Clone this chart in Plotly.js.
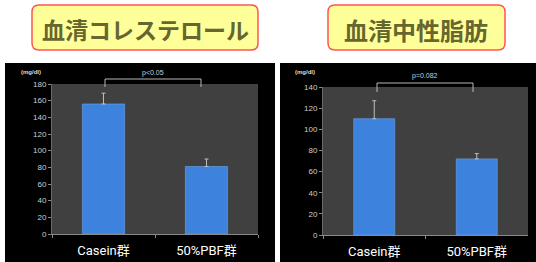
<!DOCTYPE html>
<html><head><meta charset="utf-8">
<script src="https://cdn.plot.ly/plotly-3.0.1.min.js"></script>
<style>html,body{margin:0;padding:0;background:#fff;}#c{width:536px;height:262px;}</style>
</head><body><div id="c"></div>
<script>
// ---- data ----
const categories = ['Casein群', '50%PBF群'];
const cholValues = [156, 81];
const cholErrors = [13, 9];
const tgValues = [110, 72];
const tgErrors = [17, 5];
const panelTitles = ['血清コレステロール', '血清中性脂肪'];
const pLabels = ['p<0.05', 'p=0.082'];
const unitLabel = '(mg/dl)';

const W = 536, H = 262;
const px = x => x / W;
const py = y => 1 - y / H;

function roundRect(x0, y0, x1, y1, r) {
  const p = [];
  p.push('M', px(x0 + r), py(y0));
  p.push('L', px(x1 - r), py(y0));
  p.push('Q', px(x1), py(y0), px(x1), py(y0 + r));
  p.push('L', px(x1), py(y1 - r));
  p.push('Q', px(x1), py(y1), px(x1 - r), py(y1));
  p.push('L', px(x0 + r), py(y1));
  p.push('Q', px(x0), py(y1), px(x0), py(y1 - r));
  p.push('L', px(x0), py(y0 + r));
  p.push('Q', px(x0), py(y0), px(x0 + r), py(y0));
  p.push('Z');
  let s = '';
  for (let i = 0; i < p.length; i++) s += (typeof p[i] === 'number' ? p[i].toFixed(5) : p[i]) + ' ';
  return s.trim();
}

const barColor = '#3d82dc';
const errStyle = c => ({type: 'data', symmetric: false, array: c, arrayminus: c.map(() => 0),
  color: '#bdbdbd', thickness: 1, width: 2});

const traces = [
  {type: 'bar', x: categories, y: cholValues, xaxis: 'x', yaxis: 'y', width: 0.41,
   marker: {color: barColor, line: {color: '#6aa6ee', width: 0.6}}, error_y: errStyle(cholErrors), hoverinfo: 'none'},
  {type: 'bar', x: categories, y: tgValues, xaxis: 'x2', yaxis: 'y2', width: 0.4,
   marker: {color: barColor, line: {color: '#6aa6ee', width: 0.6}}, error_y: errStyle(tgErrors), hoverinfo: 'none'}
];

const xFont = {family: 'Liberation Sans Narrow, Roboto, Noto Sans CJK JP, sans-serif', size: 13, color: '#ffffff'};
const yFont = {family: 'Liberation Sans, Arial, sans-serif', size: 8, color: '#cfcfcf'};

const xaxisBase = {showline: true, linecolor: '#8a8a8a', linewidth: 1, ticks: 'outside', tickson: 'boundaries',
  ticklen: 3, tickcolor: '#8a8a8a', tickfont: xFont, ticklabelstandoff: 4, showgrid: false, zeroline: false, fixedrange: true};
const yaxisBase = {showline: true, linecolor: '#6a6a6a', linewidth: 1, ticks: 'outside', ticklen: 3, tickcolor: '#8a8a8a',
  tickfont: yFont, showgrid: false, zeroline: false, fixedrange: true};

const layout = {
  width: W, height: H,
  margin: {l: 0, r: 0, t: 0, b: 0, pad: 0},
  paper_bgcolor: '#ffffff', plot_bgcolor: '#3f3f3f',
  showlegend: false, bargap: 0.59,
  xaxis: Object.assign({}, xaxisBase, {domain: [px(52), px(258)], anchor: 'y'}),
  yaxis: Object.assign({}, yaxisBase, {domain: [py(234), py(84)], range: [0, 180], dtick: 20, anchor: 'x'}),
  xaxis2: Object.assign({}, xaxisBase, {domain: [px(323), px(528)], anchor: 'y2'}),
  yaxis2: Object.assign({}, yaxisBase, {domain: [py(235), py(87)], range: [0, 140], dtick: 20, anchor: 'x2'}),
  shapes: [
    {type: 'rect', xref: 'paper', yref: 'paper', x0: px(5), x1: px(275), y0: py(262), y1: py(63),
     fillcolor: '#000000', line: {width: 0}, layer: 'below'},
    {type: 'rect', xref: 'paper', yref: 'paper', x0: px(280), x1: px(536), y0: py(262), y1: py(63),
     fillcolor: '#000000', line: {width: 0}, layer: 'below'},
    {type: 'rect', xref: 'x domain', yref: 'y domain', x0: 0, x1: 1, y0: 0, y1: 1,
     fillcolor: '#404040', line: {width: 0}, layer: 'below'},
    {type: 'rect', xref: 'x2 domain', yref: 'y2 domain', x0: 0, x1: 1, y0: 0, y1: 1,
     fillcolor: '#404040', line: {width: 0}, layer: 'below'},
    {type: 'path', xref: 'paper', yref: 'paper', path: roundRect(32, 5, 258, 50, 7),
     fillcolor: '#ffff99', line: {color: '#ff5555', width: 1.5}},
    {type: 'path', xref: 'paper', yref: 'paper', path: roundRect(328, 5, 505, 50, 7),
     fillcolor: '#ffff99', line: {color: '#ff5555', width: 1.5}},
    // significance brackets
    {type: 'path', xref: 'paper', yref: 'paper',
     path: `M ${px(105)} ${py(87)} L ${px(105)} ${py(79)} L ${px(201)} ${py(79)} L ${px(201)} ${py(87)}`,
     line: {color: '#b8b8b8', width: 1}},
    {type: 'path', xref: 'paper', yref: 'paper',
     path: `M ${px(377)} ${py(92)} L ${px(377)} ${py(83)} L ${px(473)} ${py(83)} L ${px(473)} ${py(92)}`,
     line: {color: '#b8b8b8', width: 1}}
  ],
  annotations: [
    {xref: 'paper', yref: 'paper', x: px(145), y: py(29), text: '<b>' + panelTitles[0] + '</b>', showarrow: false,
     font: {family: 'Noto Sans CJK JP', size: 23, color: '#66662e'}, xanchor: 'center', yanchor: 'middle'},
    {xref: 'paper', yref: 'paper', x: px(416), y: py(29), text: '<b>' + panelTitles[1] + '</b>', showarrow: false,
     font: {family: 'Noto Sans CJK JP', size: 24, color: '#66662e'}, xanchor: 'center', yanchor: 'middle'},
    {xref: 'paper', yref: 'paper', x: px(153), y: py(73), text: pLabels[0], showarrow: false,
     font: {family: 'Liberation Sans', size: 7, color: '#d0d0d0'}, xanchor: 'center', yanchor: 'middle'},
    {xref: 'paper', yref: 'paper', x: px(425), y: py(76), text: pLabels[1], showarrow: false,
     font: {family: 'Liberation Sans', size: 7, color: '#d0d0d0'}, xanchor: 'center', yanchor: 'middle'},
    {xref: 'paper', yref: 'paper', x: px(31), y: py(72), text: '<b>' + unitLabel + '</b>', showarrow: false,
     font: {family: 'Liberation Sans', size: 6, color: '#dddddd'}, xanchor: 'center', yanchor: 'middle'},
    {xref: 'paper', yref: 'paper', x: px(305), y: py(72), text: '<b>' + unitLabel + '</b>', showarrow: false,
     font: {family: 'Liberation Sans', size: 6, color: '#dddddd'}, xanchor: 'center', yanchor: 'middle'}
  ]
};

Plotly.newPlot('c', traces, layout, {displayModeBar: false, staticPlot: true});
</script>
</body></html>
